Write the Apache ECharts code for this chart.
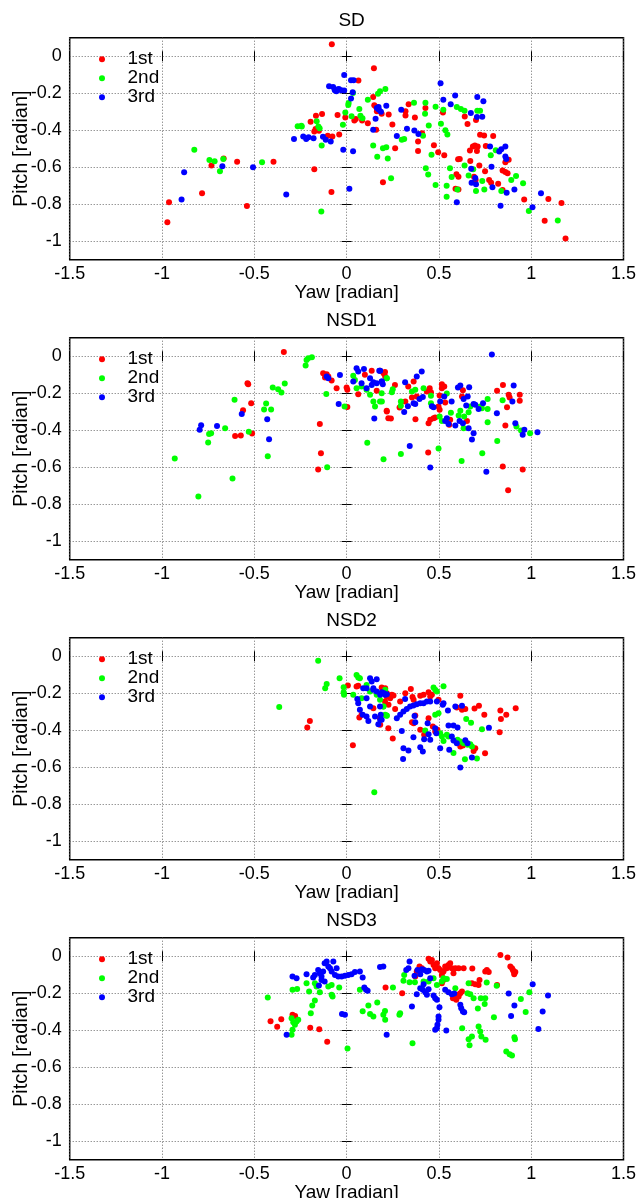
<!DOCTYPE html>
<html><head><meta charset="utf-8">
<script src="https://cdn.jsdelivr.net/npm/echarts@6/dist/echarts.min.js"></script>
<style>html,body{margin:0;padding:0;background:#fff}#c{width:640px;height:1198px}</style>
</head><body><div id="c"></div>
<script>
const panelTitles = ['SD', 'NSD1', 'NSD2', 'NSD3'];
const seriesNames = ['1st', '2nd', '3rd'];
const xTickValues = [-1.5, -1, -0.5, 0, 0.5, 1, 1.5];
const yTickValues = [0, -0.2, -0.4, -0.6, -0.8, -1];

// ---- SD ----
const sd1st = [[-0.08,0.065],[0.148,-0.065],[0.064,-0.132],[0.144,-0.22],[0.15,-0.265],[0.16,-0.275],[-0.166,-0.322],[-0.133,-0.313],[-0.195,-0.354],[-0.049,-0.318],[-0.007,-0.331],[0.042,-0.347],[0.05,-0.34],[0.084,-0.347],[0.115,-0.362],[0.19,-0.311],[0.164,-0.298],[0.228,-0.315],[0.248,-0.369],[0.319,-0.297],[0.319,-0.32],[0.336,-0.26],[0.37,-0.331],[0.427,-0.28],[0.522,-0.304],[0.64,-0.326],[0.655,-0.367],[0.701,-0.345],[-0.175,-0.407],[-0.15,-0.403],[-0.168,-0.394],[-0.102,-0.43],[-0.077,-0.434],[-0.04,-0.423],[0.16,-0.398],[0.387,-0.461],[0.387,-0.512],[0.409,-0.416],[0.263,-0.497],[0.473,-0.481],[0.496,-0.519],[0.529,-0.535],[0.613,-0.555],[0.668,-0.51],[0.684,-0.488],[0.695,-0.483],[0.71,-0.488],[0.706,-0.512],[0.723,-0.425],[0.745,-0.429],[0.754,-0.485],[0.794,-0.432],[0.67,-0.566],[0.719,-0.591],[0.75,-0.622],[0.772,-0.669],[0.783,-0.684],[0.821,-0.689],[0.845,-0.723],[0.845,-0.618],[0.86,-0.626],[0.872,-0.633],[0.86,-0.573],[0.878,-0.56],[0.595,-0.638],[0.606,-0.651],[0.604,-0.557],[0.59,-0.716],[0.606,-0.72],[0.69,-0.651],[0.699,-0.669],[0.962,-0.774],[1.073,-0.89],[1.093,-0.772],[1.164,-0.794],[1.186,-0.986],[0.197,-0.682],[-0.175,-0.611],[-0.082,-0.734],[-0.396,-0.57],[-0.593,-0.571],[-0.54,-0.81],[-0.666,-0.553],[-0.732,-0.591],[-0.783,-0.741],[-0.962,-0.79],[-0.971,-0.897]];
const sd2nd = [[-0.825,-0.505],[-0.743,-0.561],[-0.715,-0.568],[-0.686,-0.622],[-0.668,-0.555],[-0.458,-0.573],[-0.137,-0.839],[-0.265,-0.378],[-0.245,-0.376],[-0.243,-0.38],[-0.162,-0.351],[-0.153,-0.38],[-0.146,-0.389],[-0.135,-0.483],[-0.02,-0.371],[-0.007,-0.304],[0.009,-0.264],[0.011,-0.253],[0.035,-0.199],[0.027,-0.324],[0.069,-0.286],[0.075,-0.322],[0.086,-0.335],[0.115,-0.235],[0.17,-0.203],[0.181,-0.19],[0.21,-0.177],[0.144,-0.483],[0.166,-0.543],[0.197,-0.497],[0.215,-0.492],[0.223,-0.553],[0.241,-0.66],[0.299,-0.452],[0.312,-0.447],[0.365,-0.251],[0.427,-0.251],[0.425,-0.311],[0.414,-0.43],[0.429,-0.606],[0.442,-0.64],[0.445,-0.374],[0.46,-0.533],[0.482,-0.273],[0.482,-0.696],[0.511,-0.365],[0.524,-0.289],[0.535,-0.4],[0.546,-0.423],[0.542,-0.7],[0.542,-0.76],[0.56,-0.606],[0.569,-0.653],[0.597,-0.275],[0.619,-0.286],[0.639,-0.295],[0.6,-0.72],[0.639,-0.591],[0.661,-0.645],[0.686,-0.611],[0.701,-0.729],[0.708,-0.295],[0.723,-0.295],[0.735,-0.675],[0.746,-0.72],[0.781,-0.535],[0.808,-0.508],[0.838,-0.729],[0.892,-0.669],[0.918,-0.647],[0.956,-0.687],[0.987,-0.837],[1.144,-0.888]];
const sd3rd = [[-0.894,-0.774],[-0.88,-0.627],[-0.673,-0.595],[-0.507,-0.6],[-0.327,-0.747],[-0.285,-0.447],[-0.235,-0.434],[-0.219,-0.448],[-0.206,-0.438],[-0.179,-0.443],[-0.128,-0.436],[-0.113,-0.452],[-0.086,-0.461],[-0.095,-0.163],[-0.073,-0.166],[-0.064,-0.184],[-0.055,-0.19],[-0.042,-0.177],[-0.029,-0.184],[-0.013,-0.186],[-0.05,-0.18],[-0.013,-0.101],[0.024,-0.13],[0.038,-0.13],[0.033,-0.195],[0.024,-0.228],[-0.018,-0.506],[0.035,-0.514],[0.015,-0.716],[0.157,-0.338],[0.144,-0.398],[0.164,-0.28],[0.175,-0.289],[0.186,-0.3],[0.173,-0.275],[0.215,-0.268],[0.272,-0.432],[0.296,-0.289],[0.327,-0.392],[0.367,-0.401],[0.389,-0.42],[0.509,-0.146],[0.524,-0.235],[0.564,-0.26],[0.588,-0.212],[0.597,-0.79],[0.673,-0.307],[0.675,-0.608],[0.677,-0.684],[0.697,-0.658],[0.701,-0.692],[0.706,-0.329],[0.708,-0.221],[0.735,-0.327],[0.741,-0.244],[0.777,-0.488],[0.785,-0.597],[0.79,-0.709],[0.827,-0.515],[0.838,-0.503],[0.86,-0.488],[0.834,-0.808],[0.86,-0.542],[0.865,-0.555],[0.867,-0.738],[0.909,-0.72],[1.007,-0.817],[1.053,-0.741]];

// ---- NSD1 ----
const nsd1_1st = [[-0.34,0.023],[-0.537,-0.146],[-0.533,-0.151],[-0.561,-0.292],[-0.517,-0.254],[-0.604,-0.431],[-0.573,-0.429],[-0.512,-0.418],[-0.145,-0.366],[-0.139,-0.524],[-0.154,-0.613],[-0.127,-0.092],[-0.108,-0.097],[-0.099,-0.11],[-0.117,-0.115],[-0.081,-0.132],[-0.054,-0.173],[0,-0.169],[0.004,-0.182],[0.004,-0.274],[0.063,-0.205],[0.099,-0.1],[0.136,-0.079],[0.181,-0.079],[0.208,-0.086],[0.217,-0.295],[0.226,-0.335],[0.163,-0.187],[0.2,-0.092],[0.209,-0.11],[0.262,-0.155],[0.218,-0.299],[0.24,-0.337],[0.287,-0.277],[0.318,-0.245],[0.334,-0.164],[0.363,-0.137],[0.354,-0.223],[0.373,-0.341],[0.38,-0.218],[0.435,-0.191],[0.45,-0.173],[0.457,-0.195],[0.444,-0.362],[0.453,-0.344],[0.471,-0.335],[0.48,-0.332],[0.442,-0.521],[0.498,-0.272],[0.504,-0.29],[0.504,-0.213],[0.516,-0.173],[0.529,-0.164],[0.516,-0.151],[0.534,-0.25],[0.556,-0.371],[0.561,-0.344],[0.625,-0.218],[0.63,-0.184],[0.652,-0.35],[0.815,-0.187],[0.847,-0.155],[0.878,-0.209],[0.883,-0.223],[0.869,-0.276],[0.86,-0.375],[0.846,-0.596],[0.875,-0.724],[0.938,-0.209],[0.938,-0.241],[0.954,-0.613]];
const nsd1_2nd = [[-0.931,-0.553],[-0.803,-0.759],[-0.75,-0.467],[-0.745,-0.42],[-0.734,-0.416],[-0.658,-0.389],[-0.618,-0.661],[-0.607,-0.236],[-0.53,-0.409],[-0.447,-0.288],[-0.436,-0.256],[-0.409,-0.288],[-0.427,-0.541],[-0.4,-0.169],[-0.371,-0.178],[-0.353,-0.196],[-0.335,-0.148],[-0.222,-0.05],[-0.217,-0.02],[-0.208,-0.011],[-0.188,-0.005],[-0.11,-0.204],[-0.105,-0.6],[-0.011,-0.272],[0.036,-0.105],[0.045,-0.128],[0.054,-0.173],[0.081,-0.164],[0.108,-0.182],[0.127,-0.209],[0.145,-0.245],[0.154,-0.272],[0.181,-0.245],[0.19,-0.2],[0.217,-0.119],[0.112,-0.468],[0.2,-0.557],[0.218,-0.119],[0.191,-0.245],[0.245,-0.195],[0.25,-0.178],[0.294,-0.528],[0.294,-0.245],[0.294,-0.268],[0.354,-0.191],[0.372,-0.182],[0.417,-0.173],[0.457,-0.214],[0.457,-0.254],[0.498,-0.499],[0.504,-0.326],[0.516,-0.35],[0.543,-0.202],[0.565,-0.306],[0.616,-0.295],[0.607,-0.321],[0.637,-0.326],[0.623,-0.566],[0.634,-0.389],[0.661,-0.303],[0.67,-0.272],[0.724,-0.272],[0.733,-0.281],[0.735,-0.524],[0.764,-0.285],[0.764,-0.232],[0.764,-0.357],[0.816,-0.459],[0.845,-0.238],[0.92,-0.38],[0.945,-0.402],[0.994,-0.416]];
const nsd1_3rd = [[-0.796,-0.398],[-0.788,-0.373],[-0.702,-0.377],[-0.568,-0.312],[-0.43,-0.341],[-0.42,-0.449],[-0.108,-0.11],[-0.099,-0.119],[-0.036,-0.101],[-0.043,-0.259],[0.036,-0.137],[0.054,-0.065],[0.063,-0.083],[0.081,-0.146],[0.094,-0.069],[0.108,-0.173],[0.127,-0.119],[0.136,-0.155],[0.145,-0.141],[0.163,-0.146],[0.177,-0.079],[0.19,-0.137],[0.15,-0.337],[0.182,-0.079],[0.191,-0.137],[0.196,-0.151],[0.317,-0.141],[0.312,-0.301],[0.332,-0.27],[0.363,-0.254],[0.372,-0.258],[0.342,-0.485],[0.38,-0.11],[0.407,-0.083],[0.395,-0.232],[0.413,-0.22],[0.453,-0.602],[0.462,-0.27],[0.471,-0.276],[0.507,-0.245],[0.529,-0.218],[0.534,-0.35],[0.543,-0.335],[0.552,-0.366],[0.569,-0.245],[0.589,-0.375],[0.603,-0.169],[0.616,-0.159],[0.612,-0.35],[0.63,-0.362],[0.634,-0.232],[0.648,-0.267],[0.656,-0.218],[0.661,-0.389],[0.664,-0.168],[0.679,-0.45],[0.688,-0.416],[0.688,-0.258],[0.697,-0.263],[0.715,-0.286],[0.739,-0.254],[0.757,-0.625],[0.787,0.009],[0.814,-0.308],[0.898,-0.245],[0.905,-0.159],[0.914,-0.362],[0.954,-0.425],[0.963,-0.398],[1.034,-0.411]];

// ---- NSD2 ----
const nsd2_1st = [[0.007,-0.159],[0.054,-0.164],[0.063,-0.16],[0.069,-0.332],[0.081,-0.317],[0.19,-0.169],[0.217,-0.218],[0.208,-0.245],[0.226,-0.389],[-0.199,-0.35],[-0.213,-0.386],[0.034,-0.481],[0.145,-0.281],[0.181,-0.335],[0.209,-0.173],[0.218,-0.2],[0.227,-0.218],[0.236,-0.227],[0.245,-0.209],[0.254,-0.213],[0.182,-0.371],[0.227,-0.263],[0.263,-0.285],[0.25,-0.445],[0.29,-0.245],[0.318,-0.2],[0.348,-0.177],[0.357,-0.22],[0.363,-0.236],[0.354,-0.357],[0.363,-0.362],[0.372,-0.321],[0.399,-0.214],[0.399,-0.398],[0.42,-0.425],[0.417,-0.209],[0.444,-0.195],[0.462,-0.209],[0.453,-0.218],[0.444,-0.335],[0.467,-0.38],[0.48,-0.407],[0.492,-0.398],[0.498,-0.236],[0.616,-0.214],[0.597,-0.277],[0.625,-0.29],[0.643,-0.285],[0.616,-0.488],[0.63,-0.483],[0.693,-0.283],[0.717,-0.268],[0.697,-0.497],[0.688,-0.512],[0.746,-0.317],[0.75,-0.524],[0.829,-0.411],[0.833,-0.294],[0.836,-0.339],[0.865,-0.317],[0.916,-0.281]];
const nsd2_2nd = [[-0.154,-0.025],[-0.365,-0.274],[-0.116,-0.173],[-0.108,-0.15],[-0.038,-0.119],[-0.016,-0.168],[-0.016,-0.195],[-0.014,-0.209],[0.036,-0.209],[0.054,-0.101],[0.063,-0.115],[0.072,-0.119],[0.081,-0.227],[0.108,-0.155],[0.127,-0.191],[0.163,-0.209],[0.181,-0.236],[0.208,-0.2],[0.217,-0.321],[0.199,-0.272],[0.15,-0.735],[0.2,-0.272],[0.209,-0.317],[0.209,-0.182],[0.218,-0.322],[0.426,-0.402],[0.471,-0.169],[0.48,-0.182],[0.489,-0.191],[0.525,-0.162],[0.48,-0.317],[0.498,-0.308],[0.507,-0.416],[0.516,-0.434],[0.525,-0.458],[0.543,-0.425],[0.552,-0.434],[0.579,-0.523],[0.601,-0.452],[0.616,-0.461],[0.634,-0.47],[0.656,-0.479],[0.67,-0.476],[0.679,-0.488],[0.641,-0.557],[0.648,-0.339],[0.674,-0.36],[0.706,-0.553],[0.733,-0.395]];
const nsd2_3rd = [[0.058,-0.232],[0.063,-0.254],[0.072,-0.29],[0.087,-0.317],[0.108,-0.326],[0.127,-0.119],[0.136,-0.137],[0.145,-0.173],[0.154,-0.326],[0.163,-0.124],[0.172,-0.368],[0.181,-0.272],[0.19,-0.344],[0.203,-0.2],[0.118,-0.35],[0.108,-0.227],[0.127,-0.272],[0.09,-0.173],[0.108,-0.173],[0.145,-0.182],[0.163,-0.191],[0.182,-0.209],[0.191,-0.195],[0.209,-0.209],[0.182,-0.344],[0.185,-0.317],[0.218,-0.205],[0.272,-0.335],[0.29,-0.317],[0.308,-0.299],[0.326,-0.285],[0.344,-0.272],[0.362,-0.267],[0.38,-0.26],[0.399,-0.254],[0.417,-0.254],[0.435,-0.245],[0.453,-0.245],[0.317,-0.231],[0.299,-0.404],[0.308,-0.497],[0.335,-0.51],[0.306,-0.555],[0.362,-0.438],[0.368,-0.323],[0.372,-0.357],[0.399,-0.492],[0.413,-0.515],[0.42,-0.449],[0.453,-0.452],[0.444,-0.422],[0.439,-0.362],[0.48,-0.389],[0.486,-0.416],[0.507,-0.497],[0.489,-0.245],[0.525,-0.254],[0.521,-0.263],[0.549,-0.294],[0.552,-0.375],[0.579,-0.375],[0.601,-0.386],[0.556,-0.506],[0.57,-0.434],[0.579,-0.456],[0.597,-0.47],[0.589,-0.272],[0.625,-0.268],[0.616,-0.602],[0.643,-0.454],[0.655,-0.47],[0.679,-0.548],[0.771,-0.387]];

// ---- NSD3 ----
const nsd3_1st = [[-0.412,-0.351],[-0.376,-0.382],[-0.354,-0.341],[-0.293,-0.317],[-0.279,-0.323],[-0.197,-0.387],[-0.148,-0.395],[-0.105,-0.463],[0.211,-0.169],[0.301,-0.2],[0.372,-0.11],[0.38,-0.083],[0.395,-0.056],[0.408,-0.065],[0.444,-0.014],[0.453,-0.029],[0.462,-0.02],[0.471,-0.047],[0.48,-0.065],[0.489,-0.038],[0.498,-0.065],[0.507,-0.074],[0.516,-0.101],[0.525,-0.083],[0.534,-0.056],[0.543,-0.065],[0.552,-0.047],[0.561,-0.038],[0.57,-0.065],[0.579,-0.092],[0.525,-0.128],[0.516,-0.146],[0.589,-0.065],[0.607,-0.065],[0.634,-0.065],[0.576,-0.227],[0.594,-0.236],[0.607,-0.218],[0.616,-0.2],[0.625,-0.191],[0.598,-0.209],[0.681,-0.067],[0.679,-0.146],[0.697,-0.151],[0.715,-0.155],[0.72,-0.128],[0.751,-0.083],[0.76,-0.074],[0.77,-0.086],[0.833,0.007],[0.872,-0.007],[0.815,-0.155],[0.887,-0.056],[0.896,-0.065],[0.905,-0.083],[0.908,-0.097],[0.901,-0.074],[0.914,-0.086]];
const nsd3_2nd = [[-0.427,-0.223],[-0.293,-0.182],[-0.268,-0.177],[-0.298,-0.335],[-0.289,-0.357],[-0.28,-0.371],[-0.271,-0.353],[-0.262,-0.344],[-0.293,-0.398],[-0.298,-0.425],[-0.217,-0.146],[-0.203,-0.191],[-0.194,-0.308],[-0.186,-0.267],[-0.172,-0.24],[-0.172,-0.146],[-0.163,-0.164],[-0.145,-0.195],[-0.099,-0.164],[-0.081,-0.155],[-0.081,-0.209],[-0.076,-0.218],[-0.04,-0.169],[0.005,-0.499],[0.072,-0.182],[0.087,-0.297],[0.118,-0.267],[0.127,-0.312],[0.145,-0.326],[0.166,-0.25],[0.199,-0.317],[0.208,-0.296],[0.209,-0.344],[0.251,-0.169],[0.312,-0.101],[0.308,-0.133],[0.341,-0.141],[0.37,-0.141],[0.29,-0.308],[0.286,-0.317],[0.357,-0.47],[0.417,-0.137],[0.444,-0.137],[0.471,-0.119],[0.489,-0.155],[0.516,-0.137],[0.525,-0.119],[0.543,-0.123],[0.589,-0.173],[0.626,-0.389],[0.661,-0.146],[0.655,-0.2],[0.67,-0.205],[0.688,-0.227],[0.715,-0.38],[0.724,-0.407],[0.73,-0.434],[0.753,-0.452],[0.661,-0.449],[0.666,-0.481],[0.679,-0.434],[0.711,-0.283],[0.727,-0.227],[0.751,-0.227],[0.748,-0.258],[0.759,-0.142],[0.798,-0.33],[0.813,-0.16],[0.865,-0.515],[0.883,-0.53],[0.896,-0.537],[0.909,-0.438],[0.912,-0.449],[0.944,-0.232],[0.97,-0.301],[0.99,-0.195]];
const nsd3_3rd = [[-0.293,-0.11],[-0.271,-0.119],[-0.325,-0.425],[-0.217,-0.097],[-0.181,-0.115],[-0.172,-0.101],[-0.154,-0.074],[-0.145,-0.092],[-0.136,-0.11],[-0.127,-0.083],[-0.119,-0.038],[-0.108,-0.029],[-0.099,-0.056],[-0.09,-0.065],[-0.081,-0.083],[-0.072,-0.029],[-0.063,-0.101],[-0.054,-0.065],[-0.136,-0.128],[-0.119,-0.137],[-0.15,-0.159],[-0.045,-0.11],[-0.027,-0.11],[-0.009,-0.105],[0.009,-0.101],[0.027,-0.097],[0.045,-0.086],[0.072,-0.083],[-0.025,-0.312],[-0.009,-0.317],[0.087,-0.115],[0.096,-0.169],[0.105,-0.182],[0.114,-0.187],[0.181,-0.059],[0.199,-0.056],[0.217,-0.425],[0.323,-0.074],[0.341,-0.029],[0.335,-0.065],[0.354,-0.272],[0.368,-0.105],[0.384,-0.074],[0.399,-0.097],[0.408,-0.07],[0.42,-0.074],[0.435,-0.083],[0.444,-0.079],[0.38,-0.205],[0.399,-0.173],[0.413,-0.182],[0.426,-0.195],[0.435,-0.209],[0.417,-0.151],[0.444,-0.178],[0.453,-0.119],[0.471,-0.213],[0.48,-0.227],[0.489,-0.236],[0.503,-0.276],[0.498,-0.326],[0.498,-0.344],[0.492,-0.371],[0.489,-0.389],[0.48,-0.398],[0.54,-0.402],[0.534,-0.182],[0.552,-0.195],[0.57,-0.205],[0.583,-0.202],[0.616,-0.263],[0.621,-0.281],[0.63,-0.299],[0.637,-0.303],[0.878,-0.202],[0.891,-0.323],[0.909,-0.267],[1.008,-0.151],[1.039,-0.393],[1.062,-0.299],[1.091,-0.213]];

const panelData = [
  [sd1st, sd2nd, sd3rd],
  [nsd1_1st, nsd1_2nd, nsd1_3rd],
  [nsd2_1st, nsd2_2nd, nsd2_3rd],
  [nsd3_1st, nsd3_2nd, nsd3_3rd]
];

const colors = ['#ff0000', '#00ff00', '#0000ff'];
const FONT = '"Liberation Sans", Arial, Helvetica, sans-serif';
const PLOT_LEFT = 69.7, PLOT_W = 553.8, PLOT_TOP = 37.7, PLOT_H = 222, STEP = 300;
const N = panelTitles.length;

const grid = [], xAxis = [], yAxis = [], series = [], title = [], legend = [];
const gridLine = { show: true, lineStyle: { color: '#6a6a6a', width: 1, type: [1, 2] } };
const labelStyle = { color: '#000', fontSize: 18, fontFamily: FONT };

for (let i = 0; i < N; i++) {
  const top = PLOT_TOP + STEP * i;
  grid.push({ left: PLOT_LEFT, top: top, width: PLOT_W, height: PLOT_H, show: true,
    containLabel: false, outerBoundsMode: 'none',
    borderColor: '#000', borderWidth: 1.5, backgroundColor: 'transparent' });
  title.push({ text: panelTitles[i], left: PLOT_LEFT + PLOT_W / 2, top: 6 + STEP * i, textAlign: 'center',
    textStyle: { fontSize: 19, fontWeight: 'normal', color: '#000', fontFamily: FONT } });
  legend.push({ orient: 'vertical', left: 99, top: top + 12, itemWidth: 41, itemHeight: 6, itemGap: 0,
    icon: 'circle', selectedMode: false, data: seriesNames, padding: 0,
    textStyle: { fontSize: 19, lineHeight: 18.8, color: '#000', fontFamily: FONT } });
}
// bottom x axes (0..N-1)
for (let i = 0; i < N; i++) {
  xAxis.push({ type: 'value', gridIndex: i, position: 'bottom', min: -1.5, max: 1.5, interval: 0.5,
    name: 'Yaw [radian]', nameLocation: 'middle', nameGap: 24,
    nameTextStyle: { fontSize: 19, color: '#000', fontFamily: FONT },
    axisLine: { show: false }, axisTick: { show: true, inside: true, length: 5, lineStyle: { color: '#000' } },
    axisLabel: Object.assign({ margin: 5 }, labelStyle), splitLine: gridLine });
}
// mirror top x axes (N..2N-1)
for (let i = 0; i < N; i++) {
  xAxis.push({ type: 'value', gridIndex: i, position: 'top', min: -1.5, max: 1.5, interval: 0.5,
    axisLine: { show: false }, axisTick: { show: true, inside: true, length: 5, lineStyle: { color: '#000' } },
    axisLabel: { show: false }, splitLine: { show: false } });
}
// left y axes
for (let i = 0; i < N; i++) {
  yAxis.push({ type: 'value', gridIndex: i, position: 'left', min: -1.1, max: 0.1,
    name: 'Pitch [radian]', nameLocation: 'middle', nameGap: 38, nameMoveOverlap: false,
    nameTextStyle: { fontSize: 20, color: '#000', fontFamily: FONT },
    axisLine: { show: false },
    axisTick: { show: true, inside: true, length: 5, customValues: yTickValues, lineStyle: { color: '#000' } },
    axisLabel: Object.assign({ margin: 8, customValues: yTickValues }, labelStyle), splitLine: gridLine });
}
// mirror right y axes
for (let i = 0; i < N; i++) {
  yAxis.push({ type: 'value', gridIndex: i, position: 'right', min: -1.1, max: 0.1,
    axisLine: { show: false },
    axisTick: { show: true, inside: true, length: 5, customValues: yTickValues, lineStyle: { color: '#000' } },
    axisLabel: { show: false }, splitLine: { show: false } });
}
for (let i = 0; i < N; i++) {
  for (let s = 0; s < 3; s++) {
    series.push({ type: 'scatter', name: seriesNames[s], xAxisIndex: i, yAxisIndex: i,
      data: panelData[i][s], symbol: 'circle', symbolSize: 6,
      itemStyle: { color: colors[s], opacity: 1 }, emphasis: { disabled: true } });
  }
}

const chart = echarts.init(document.getElementById('c'), null, { renderer: 'canvas' });
chart.setOption({ animation: false, backgroundColor: '#fff', textStyle: { fontFamily: FONT },
  title, legend, grid, xAxis, yAxis, series });
</script>
</body></html>
